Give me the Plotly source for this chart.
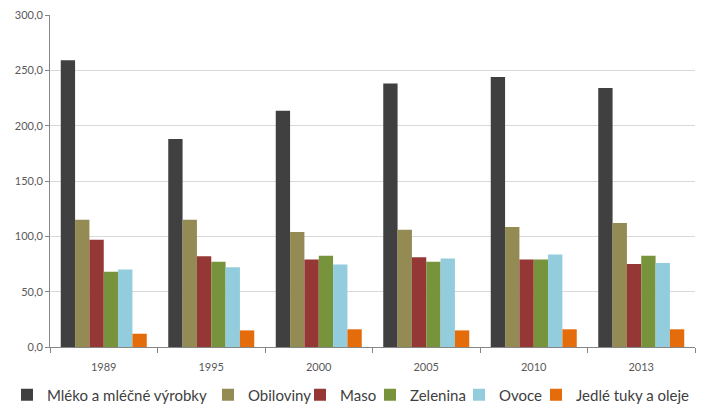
import plotly.graph_objects as go

years = ["1989", "1995", "2000", "2005", "2010", "2013"]
mleko = [259, 188, 213.5, 238, 244, 234]
obiloviny = [115, 115, 104, 106, 108.5, 112]
maso = [97, 82, 79, 81, 79, 75]
zelenina = [68, 77, 82.5, 77, 79, 82.5]
ovoce = [70, 72, 74.5, 80, 83.5, 76]
tuky = [12, 15, 16, 15, 16, 16]
y_ticks = [0, 50, 100, 150, 200, 250, 300]

series_names = ["Mléko a mléčné výrobky", "Obiloviny", "Maso", "Zelenina", "Ovoce", "Jedlé tuky a oleje"]
series_values = [mleko, obiloviny, maso, zelenina, ovoce, tuky]
colors = ["#404040", "#948A54", "#953735", "#77933C", "#93CDDD", "#E46C0A"]

# legend text start positions (pixels from left of the window)
legend_text_px = [47, 248, 340, 410, 499, 576]
LEGEND_Y_PX = 395

OFF = 8  # page body margin of the browser
W, H = 708 - OFF, 418 - OFF
ML, MR, MT, MB = 50 - OFF, 13, 7, 71
plot_w = W - ML - MR
plot_h = H - MT - MB
TEXT_OFFSET = 40

font_family = "Lato, Open Sans, sans-serif"
fig = go.Figure()
legends = {}
for i, (name, vals, col) in enumerate(zip(series_names, series_values, colors)):
    key = "legend" if i == 0 else f"legend{i+1}"
    fig.add_trace(go.Bar(x=years, y=vals, name=name, legend=key,
                         marker=dict(color=col, line=dict(width=0))))
    legends[key] = dict(
        x=(legend_text_px[i] - OFF - TEXT_OFFSET - ML) / plot_w, xanchor="left",
        y=-((LEGEND_Y_PX - OFF) - (MT + plot_h)) / plot_h, yanchor="middle",
        bgcolor="rgba(0,0,0,0)", borderwidth=0,
        font=dict(size=15, color="#404040", family=font_family),
    )

fig.update_layout(
    width=W, height=H,
    margin=dict(l=ML, r=MR, t=MT, b=MB, autoexpand=False),
    paper_bgcolor="white", plot_bgcolor="white",
    barmode="group", bargap=0.2, bargroupgap=0,
    separators=",.",
    font=dict(family=font_family, color="#595959", size=11),
    showlegend=True,
    **legends,
)
fig.update_xaxes(type="category", showline=True, linecolor="#868686", linewidth=1,
                 ticks="outside", tickson="boundaries", ticklen=5, tickcolor="#868686",
                 ticklabelstandoff=10,
                 showgrid=False, tickfont=dict(size=11, color="#595959"))
fig.update_yaxes(range=[0, 300], tickmode="array", tickvals=y_ticks,
                 tickformat=".1f", ticksuffix="\u00a0\u00a0", ticklabeloverflow="allow",
                 showline=True, linecolor="#868686",
                 linewidth=1, ticks="outside", ticklen=4, tickcolor="#868686",
                 showgrid=True, gridcolor="#D9D9D9", gridwidth=1, zeroline=False,
                 tickfont=dict(size=11, color="#595959"))

fig.write_html("out.html")
